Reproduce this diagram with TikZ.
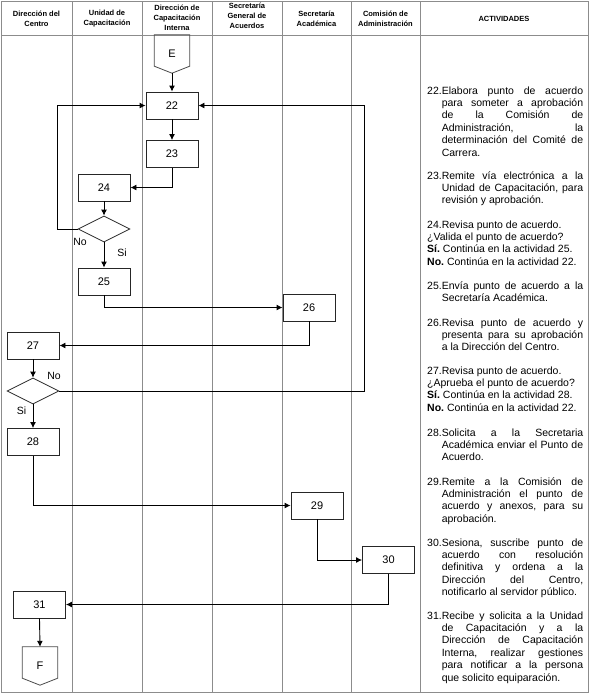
\documentclass[tikz,border=0pt]{standalone}
\usepackage{fontspec}
\setmainfont{Liberation Sans}
\usetikzlibrary{arrows.meta,shapes.geometric}
\newcommand\hangnum[1]{\setbox0\hbox{#1}\hangindent=\wd0\hangafter=1\noindent\box0}
\newcommand\actset{\frenchspacing\tolerance=10000\hbadness=10000\parindent=0pt\parskip=0pt\relax}
\begin{document}
\begin{tikzpicture}[x=1pt,y=-1pt,
  grid/.style={draw=black!45,line width=0.8pt},
  hdr/.style={align=center,inner sep=0pt,font=\bfseries\fontsize{7.5}{10}\selectfont},
  box/.style={draw=black!85,fill=white,line width=0.9pt,minimum width=52pt,minimum height=27pt,inner sep=0pt,font=\fontsize{11}{13}\selectfont},
  dia/.style={draw=black!85,fill=white,line width=0.8pt,shape=diamond,minimum width=52pt,minimum height=26pt,inner sep=0pt,aspect=2},
  term/.style={minimum width=35pt,minimum height=38pt,inner sep=0pt,font=\fontsize{11}{13}\selectfont},
  termline/.style={draw=black!70,line width=0.8pt},
  arr/.style={draw=black,line width=0.9pt,-{Latex[length=6pt,width=6pt]}},
  lbl/.style={inner sep=0pt,font=\fontsize{10.5}{12}\selectfont},
  act/.style={anchor=base west,text width=156pt,align=justify,inner sep=0pt,
    font=\fontsize{10.5}{12.4}\selectfont}]
\useasboundingbox (0,0) rectangle (590,697);
% table
\draw[grid] (1,1) rectangle (588,692);
\draw[grid] (1,35) -- (588,35);
\foreach \x in {72,142,212,282,351,420} \draw[grid] (\x,1) -- (\x,692);
% headers
\node[hdr] (h1) at (36.5,18.5) {Dirección del\\Centro};
\node[hdr] (h2) at (107,18.5) {Unidad de\\Capacitación};
\node[hdr] (h3) at (177,17.5) {Dirección de\\Capacitación\\Interna};
\node[hdr] (h4) at (247,15.5) {Secretaría\\General de\\Acuerdos};
\node[hdr] (h5) at (316.5,18.5) {Secretaría\\Académica};
\node[hdr] (h6) at (385.5,18.5) {Comisión de\\Administración};
\node[hdr] (h7) at (504,18.5) {ACTIVIDADES};
% terminators
\node[term] (E) at (172,54) {E};
\draw[termline] (E.north west) -- (E.north east) -- ([yshift=7pt]E.south east) -- (E.south) -- ([yshift=7pt]E.south west) -- cycle;
\node[term] (F) at (40,666) {F};
\draw[termline] (F.north west) -- (F.north east) -- ([yshift=7pt]F.south east) -- (F.south) -- ([yshift=7pt]F.south west) -- cycle;
% boxes
\node[box] (n22) at (172,105.5) {22};
\node[box] (n23) at (172,154) {23};
\node[box] (n24) at (104,187.5) {24};
\node[dia] (d1) at (104,229) {};
\node[box] (n25) at (104,281.5) {25};
\node[box] (n26) at (309,307.5) {26};
\node[box] (n27) at (33,345.5) {27};
\node[dia] (d2) at (33,391) {};
\node[box] (n28) at (33,442) {28};
\node[box] (n29) at (317,505.5) {29};
\node[box] (n30) at (388.5,560) {30};
\node[box] (n31) at (39.5,604.5) {31};
\coordinate (l1) at (57,229);
\coordinate (r1) at (364,391);
% connectors
\draw[arr] (E.south) -- (n22.north);
\draw[arr] (n22.south) -- (n23.north);
\draw[arr] (n23.south) |- (n24.east);
\draw[arr] (n24.south) -- (d1.north);
\draw[arr] (d1.west) -- (l1) |- (n22.west);
\draw[arr] (d1.south) -- (n25.north);
\draw[arr] (n25.south) |- (n26.west);
\draw[arr] (n26.south) |- (n27.east);
\draw[arr] (n27.south) -- (d2.north);
\draw[arr] (d2.east) -- (r1) |- (n22.east);
\draw[arr] (d2.south) -- (n28.north);
\draw[arr] (n28.south) |- (n29.west);
\draw[arr] (n29.south) |- (n30.west);
\draw[arr] (n30.south) |- (n31.east);
\draw[arr] (n31.south) -- (F.north);
% labels
\node[lbl] (no1) at (80,242) {No};
\node[lbl] (si1) at (122,252.5) {Si};
\node[lbl] (no2) at (54,376) {No};
\node[lbl] (si2) at (21.5,410.5) {Si};
% activities
\node[act] (a22) at (427,94) {\actset\hangnum{22.}Elabora punto de acuerdo\linebreak para someter a aprobación\linebreak de la Comisión de\linebreak Administración, la\linebreak determinación del Comité de\linebreak Carrera.\par};
\node[act] (a23) at (427,179) {\actset\hangnum{23.}Remite vía electrónica a la\linebreak Unidad de Capacitación, para\linebreak revisión y aprobación.\par};
\node[act] (a24) at (427,228) {\actset 24.Revisa punto de acuerdo.\par ¿Valida el punto de acuerdo?\par \textbf{Sí.} Continúa en la actividad 25.\par \textbf{No.} Continúa en la actividad 22.\par};
\node[act] (a25) at (427,289) {\actset\hangnum{25.}Envía punto de acuerdo a la\linebreak Secretaría Académica.\par};
\node[act] (a26) at (427,326) {\actset\hangnum{26.}Revisa punto de acuerdo y\linebreak presenta para su aprobación\linebreak a la Dirección del Centro.\par};
\node[act] (a27) at (427,374) {\actset 27.Revisa punto de acuerdo.\par ¿Aprueba el punto de acuerdo?\par \textbf{Sí.} Continúa en la actividad 28.\par \textbf{No.} Continúa en la actividad 22.\par};
\node[act] (a28) at (427,436) {\actset\hangnum{28.}Solicita a la Secretaria\linebreak Académica enviar el Punto de\linebreak Acuerdo.\par};
\node[act] (a29) at (427,485) {\actset\hangnum{29.}Remite a la Comisión de\linebreak Administración el punto de\linebreak acuerdo y anexos, para su\linebreak aprobación.\par};
\node[act] (a30) at (427,546) {\actset\hangnum{30.}Sesiona, suscribe punto de\linebreak acuerdo con resolución\linebreak definitiva y ordena a la\linebreak Dirección del Centro,\linebreak notificarlo al servidor público.\par};
\node[act] (a31) at (427,619) {\actset\hangnum{31.}Recibe y solicita a la Unidad\linebreak de Capacitación y a la\linebreak Dirección de Capacitación\linebreak Interna, realizar gestiones\linebreak para notificar a la persona\linebreak que solicito equiparación.\par};
\end{tikzpicture}
\end{document}
